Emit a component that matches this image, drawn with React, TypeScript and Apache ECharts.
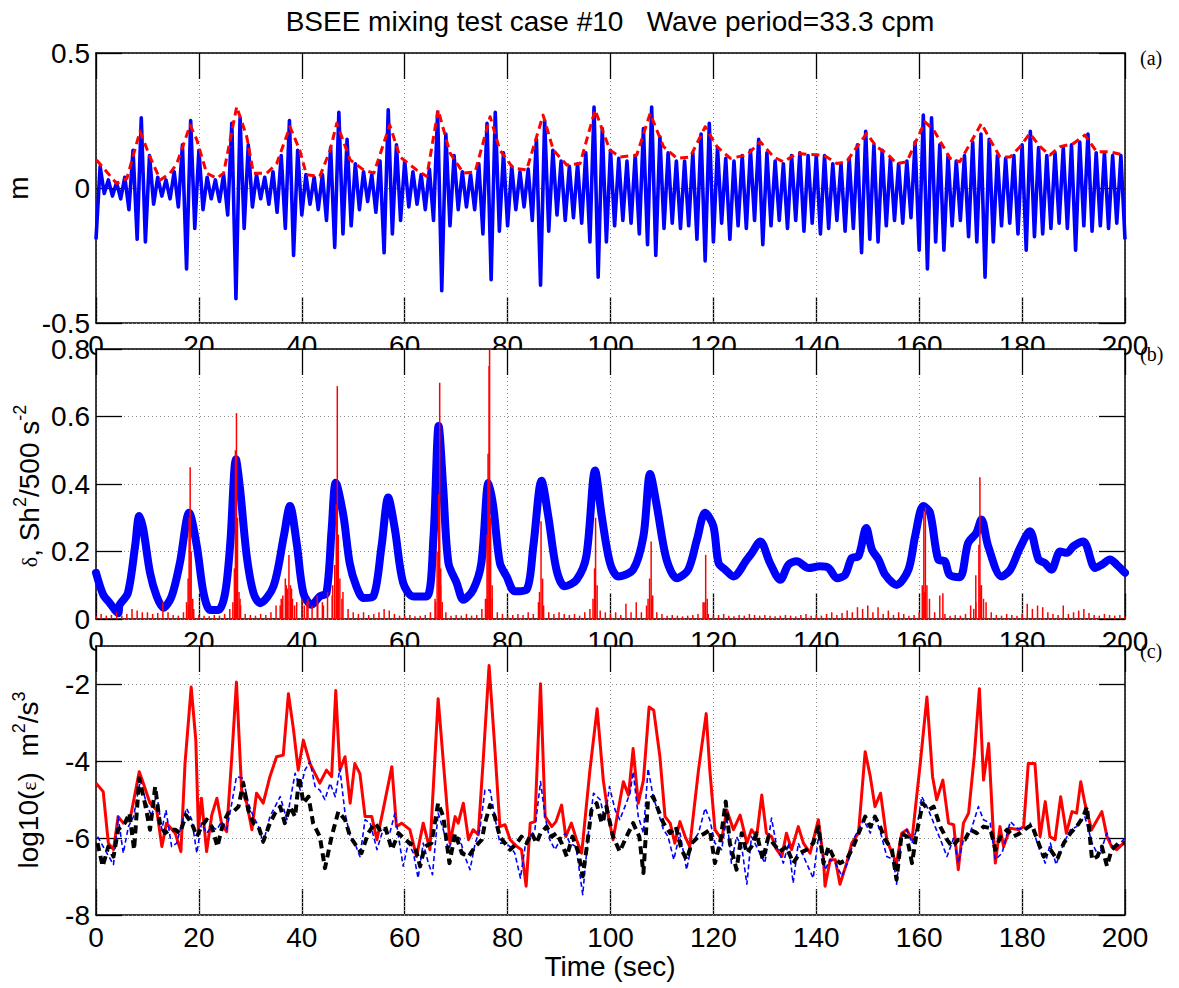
import React, { useEffect, useRef } from 'react';
import * as echarts from 'echarts';

// ---------- (a) surface elevation, m ----------
// Wave record stored as alternating troughs / crests on a 1.6 s cycle clock.
const WAVE_STEP = 1.6;
const waveTroughs = [
  -0.19, -0.02, -0.03, -0.04, -0.08, -0.19, -0.2, -0.06, -0.03, -0.04,
  -0.07, -0.3, -0.15, -0.08, -0.04, -0.05, -0.1, -0.41, -0.15, -0.07,
  -0.04, -0.06, -0.09, -0.15, -0.25, -0.1, -0.06, -0.08, -0.12, -0.22,
  -0.17, -0.14, -0.08, -0.05, -0.09, -0.24, -0.17, -0.12, -0.07, -0.06,
  -0.08, -0.12, -0.38, -0.14, -0.08, -0.07, -0.08, -0.17, -0.34, -0.16,
  -0.14, -0.08, -0.07, -0.12, -0.36, -0.16, -0.1, -0.12, -0.11, -0.13,
  -0.2, -0.33, -0.2, -0.14, -0.12, -0.13, -0.17, -0.21, -0.25, -0.15,
  -0.13, -0.15, -0.14, -0.19, -0.27, -0.2, -0.13, -0.19, -0.14, -0.15,
  -0.12, -0.21, -0.14, -0.12, -0.15, -0.12, -0.16, -0.13, -0.17, -0.15,
  -0.12, -0.16, -0.15, -0.24, -0.19, -0.2, -0.14, -0.12, -0.13, -0.11,
  -0.23, -0.3, -0.2, -0.23, -0.14, -0.12, -0.18, -0.2, -0.33, -0.2,
  -0.14, -0.13, -0.17, -0.23, -0.18, -0.17, -0.15, -0.13, -0.15, -0.23,
  -0.14, -0.16, -0.14, -0.15, -0.13, -0.19,
];
const waveCrests = [
  0.08, 0.03, 0.02, 0.04, 0.14, 0.26, 0.12, 0.04, 0.03, 0.06,
  0.16, 0.25, 0.14, 0.04, 0.03, 0.05, 0.24, 0.26, 0.16, 0.05,
  0.04, 0.06, 0.12, 0.25, 0.14, 0.05, 0.04, 0.05, 0.15, 0.28,
  0.18, 0.09, 0.06, 0.05, 0.1, 0.29, 0.16, 0.1, 0.06, 0.05,
  0.07, 0.28, 0.2, 0.12, 0.06, 0.05, 0.09, 0.24, 0.28, 0.13,
  0.08, 0.06, 0.07, 0.18, 0.25, 0.14, 0.1, 0.08, 0.09, 0.13,
  0.3, 0.22, 0.14, 0.11, 0.1, 0.12, 0.22, 0.3, 0.19, 0.13,
  0.1, 0.1, 0.13, 0.2, 0.24, 0.15, 0.11, 0.1, 0.12, 0.14,
  0.18, 0.13, 0.1, 0.09, 0.12, 0.13, 0.12, 0.12, 0.12, 0.09,
  0.09, 0.11, 0.16, 0.21, 0.16, 0.14, 0.11, 0.09, 0.1, 0.17,
  0.27, 0.26, 0.16, 0.12, 0.1, 0.12, 0.17, 0.2, 0.18, 0.12,
  0.11, 0.12, 0.16, 0.21, 0.15, 0.12, 0.13, 0.15, 0.16, 0.17,
  0.2, 0.13, 0.13, 0.12, 0.12,
];
// Crest envelope (red dashed)
const envTime = [
  0.1, 4, 6, 8.55, 10.5, 12.5, 14.4, 15.7, 18.3, 19.6, 21.5, 23.5, 24.8, 27.35, 29.3, 30.6,
  33.2, 35.1, 37.7, 39.6, 40.9, 43.5, 45.5, 46.8, 49.4, 52, 54, 57.1, 59.1, 62.3, 64.3, 66.5,
  68.8, 71.4, 73.7, 76.6, 78.5, 81.1, 83.7, 86.9, 88.9, 91.5, 94.1, 97, 99.9, 101.9, 105.1,
  107.7, 110.3, 112.9, 115.5, 118.4, 120.7, 123.3, 126.5, 129.1, 131.7, 133.6, 136.2, 138.8,
  141.4, 144, 145.9, 147.9, 149.8, 151.7, 153.7, 155.6, 157.6, 159.5, 161.1, 162.8, 164.7,
  166, 167.9, 169.9, 172.1, 173.8, 175.7, 177.7, 179.6, 181.5, 183.5, 185.4, 187.4, 190,
  192.2, 194.5, 197.1, 199.7,
];
const envHeight = [
  0.104, 0.017, 0.035, 0.21, 0.115, 0.03, 0.055, 0.09, 0.233, 0.178, 0.055, 0.036, 0.055, 0.301, 0.19, 0.055,
  0.055, 0.09, 0.227, 0.14, 0.049, 0.043, 0.14, 0.24, 0.104, 0.067, 0.055, 0.233, 0.115, 0.067, 0.043, 0.289,
  0.13, 0.055, 0.06, 0.264, 0.14, 0.073, 0.067, 0.27, 0.14, 0.085, 0.091, 0.289, 0.14, 0.115, 0.122,
  0.276, 0.153, 0.11, 0.115, 0.227, 0.153, 0.11, 0.122, 0.171, 0.115, 0.097, 0.128, 0.124,
  0.122, 0.091, 0.097, 0.153, 0.202, 0.153, 0.128, 0.091, 0.097, 0.178, 0.245, 0.215, 0.153,
  0.11, 0.097, 0.165, 0.239, 0.178, 0.115, 0.115, 0.153, 0.202, 0.153, 0.122, 0.153, 0.165,
  0.196, 0.134, 0.134, 0.122,
];

// ---------- (b) δ, Sh²/500 ----------
const deltaTime = [
  0, 1.4, 2.7, 4.3, 4.6, 6.2, 7.6, 8.4, 9.2, 10.5, 11.8, 13.1, 14.7, 16.3, 18.1, 19.6, 20.9, 22.2,
  23.8, 25.1, 26.1, 27.2, 28, 29.3, 30.6, 31.9, 34.5, 36.5, 37.7, 39, 40.3, 41.9, 43.5, 44.8, 45.8,
  46.6, 48.1, 49.3, 50.6, 52, 53.9, 55.5, 56.8, 58.1, 59.7, 61.7, 64.3, 65.6, 66.6, 67.5, 68.5, 70.1,
  71.4, 73.3, 74.9, 76.3, 77.2, 78.5, 79.8, 81.4, 83.7, 85, 86.6, 87.9, 89.5, 91.1, 93.4, 95.3, 97,
  98.3, 99.9, 101.5, 104.4, 106.4, 107.7, 109, 110.9, 112.9, 115.1, 116.8, 118.4, 120, 121, 122.3,
  123.9, 126.5, 127.5, 129.1, 131, 133, 134.6, 136.2, 138.5, 140.7, 142.4, 144, 145.6, 146.9, 148.2,
  149.7, 150.8, 152.1, 153.4, 155.6, 157.9, 159.2, 160.8, 162.1, 163.7, 165, 165.9, 167.9, 169.5,
  171.1, 172.1, 173.4, 176, 177.7, 179.6, 181.5, 183.2, 184.4, 185.7, 187.4, 188.7, 190, 191.9,
  194.2, 195.5, 197.1, 198.4, 200,
];
const deltaValue = [
  0.137, 0.072, 0.047, 0.017, 0.042, 0.077, 0.216, 0.305, 0.265, 0.137, 0.067, 0.033, 0.067, 0.166, 0.315, 0.216, 0.077, 0.027,
  0.027, 0.077, 0.225, 0.473, 0.385, 0.186, 0.077, 0.047, 0.097, 0.245, 0.335, 0.225, 0.077, 0.042, 0.067, 0.077, 0.265,
  0.404, 0.305, 0.166, 0.097, 0.062, 0.067, 0.216, 0.36, 0.265, 0.107, 0.067, 0.067, 0.245, 0.572, 0.385, 0.166, 0.107,
  0.057, 0.087, 0.166, 0.404, 0.335, 0.166, 0.126, 0.082, 0.087, 0.216, 0.41, 0.305, 0.146, 0.097, 0.116, 0.186, 0.44,
  0.305, 0.166, 0.126, 0.146, 0.245, 0.43, 0.335, 0.176, 0.121, 0.146, 0.235, 0.315, 0.275, 0.166, 0.146,
  0.126, 0.176, 0.196, 0.23, 0.166, 0.116, 0.161, 0.171, 0.151, 0.156, 0.151, 0.121, 0.131, 0.181, 0.186,
  0.27, 0.206, 0.176, 0.131, 0.101, 0.146, 0.245, 0.335, 0.315, 0.176, 0.171, 0.131, 0.124, 0.225,
  0.255, 0.295, 0.216, 0.126, 0.146, 0.211, 0.26, 0.176, 0.166, 0.146, 0.2, 0.196, 0.216, 0.23,
  0.151, 0.161, 0.176, 0.161, 0.137,
];
// Sh²/500 background level, one value per second (0..200 s)
const shearFloor = [
  0.01, 0.015, 0.01, 0.012, 0.02, 0.01, 0.015, 0.03, 0.025, 0.02,
  0.02, 0.015, 0.018, 0.05, 0.02, 0.012, 0.01, 0.02, 0.04, 0.03,
  0.012, 0.01, 0.008, 0.012, 0.01, 0.015, 0.03, 0.05, 0.06, 0.015,
  0.012, 0.01, 0.015, 0.012, 0.02, 0.04, 0.06, 0.1, 0.09, 0.05,
  0.06, 0.05, 0.04, 0.07, 0.05, 0.08, 0.1, 0.15, 0.08, 0.03,
  0.02, 0.015, 0.02, 0.012, 0.015, 0.02, 0.03, 0.025, 0.015, 0.01,
  0.01, 0.012, 0.008, 0.01, 0.012, 0.02, 0.05, 0.1, 0.02, 0.01,
  0.012, 0.01, 0.015, 0.01, 0.012, 0.03, 0.06, 0.1, 0.02, 0.015,
  0.01, 0.012, 0.015, 0.012, 0.02, 0.015, 0.05, 0.04, 0.02, 0.015,
  0.02, 0.015, 0.012, 0.015, 0.01, 0.02, 0.03, 0.05, 0.025, 0.02,
  0.015, 0.02, 0.012, 0.045, 0.02, 0.05, 0.02, 0.04, 0.06, 0.02,
  0.015, 0.01, 0.012, 0.01, 0.008, 0.01, 0.012, 0.015, 0.05, 0.015,
  0.01, 0.012, 0.015, 0.01, 0.008, 0.012, 0.01, 0.015, 0.012, 0.01,
  0.012, 0.01, 0.008, 0.01, 0.012, 0.01, 0.008, 0.012, 0.015, 0.01,
  0.012, 0.01, 0.015, 0.02, 0.012, 0.018, 0.025, 0.02, 0.035, 0.03,
  0.04, 0.02, 0.035, 0.015, 0.025, 0.012, 0.02, 0.015, 0.01, 0.012,
  0.02, 0.08, 0.06, 0.02, 0.07, 0.015, 0.01, 0.012, 0.01, 0.015,
  0.04, 0.05, 0.1, 0.05, 0.02, 0.012, 0.01, 0.015, 0.012, 0.01,
  0.015, 0.045, 0.03, 0.04, 0.035, 0.02, 0.015, 0.012, 0.04, 0.015,
  0.02, 0.025, 0.03, 0.018, 0.012, 0.01, 0.015, 0.012, 0.01, 0.012,
  0.01,
];
// Sh²/500 bursts near the wave-group peaks [time, value]
const shearBursts: [number, number][] = [
  [17.6, 0.05], [17.9, 0.12], [18.1, 0.3], [18.3, 0.45], [18.5, 0.2], [18.8, 0.06],
  [26.6, 0.05], [26.9, 0.15], [27.1, 0.5], [27.3, 0.61], [27.5, 0.3], [27.8, 0.08], [28.1, 0.04],
  [35.8, 0.04], [36.3, 0.07], [36.8, 0.12], [37.2, 0.09], [37.5, 0.19], [37.8, 0.1], [38.2, 0.06], [38.6, 0.04],
  [40.5, 0.04], [41.2, 0.06], [43.1, 0.05], [44.2, 0.04],
  [45.9, 0.07], [46.4, 0.16], [46.7, 0.34], [46.9, 0.69], [47.1, 0.25], [47.4, 0.12], [47.8, 0.06],
  [65.9, 0.06], [66.3, 0.2], [66.6, 0.37], [66.8, 0.7], [67.0, 0.15], [67.3, 0.05],
  [75.7, 0.06], [76.0, 0.25], [76.2, 0.49], [76.4, 0.75], [76.5, 0.85], [76.7, 0.3], [77.0, 0.06],
  [86.2, 0.08], [86.5, 0.29], [86.8, 0.12],
  [96.6, 0.06], [96.9, 0.15], [97.1, 0.3], [97.4, 0.1],
  [107.3, 0.06], [107.6, 0.12], [107.9, 0.23], [108.2, 0.07],
  [118.2, 0.05], [118.5, 0.19], [118.8, 0.06],
  [160.6, 0.1], [160.9, 0.32], [161.2, 0.33], [161.5, 0.1], [164.6, 0.076],
  [170.6, 0.03], [171.0, 0.13], [171.6, 0.22], [171.8, 0.42], [172.1, 0.1], [172.5, 0.06],
];

// ---------- (c) log10(ε) ----------
const epsRed: [number, number][] = [
  [0, -4.57], [1.4, -4.79], [2.4, -6.13], [3.4, -6.3], [4.3, -5.44], [5.3, -5.61], [6.6, -5.52], [8.4, -4.27],
  [9.2, -4.57], [10.5, -5.09], [11.8, -5.27], [12.8, -6.22], [13.7, -5.61], [15.4, -5.87], [16.5, -6.35],
  [17.3, -4.06], [18.5, -2.07], [19.4, -3.45], [19.9, -5.78], [20.5, -4.96], [21.5, -6.35], [22.5, -5.4],
  [23.5, -4.96], [24.4, -5.61], [25.4, -5.83], [26.4, -3.88], [27.3, -1.94], [28.3, -4.75], [29.3, -5.09],
  [30.3, -5.78], [31.2, -4.83], [32.5, -5.09], [33.8, -4.4], [35.1, -3.88], [36.4, -3.84], [37.4, -2.24],
  [38.4, -3.19], [39.3, -4.23], [40.3, -3.45], [41.6, -4.06], [43.5, -4.57], [44.8, -4.23], [45.8, -4.4],
  [46.6, -2.16], [47.4, -4.23], [48.4, -3.88], [49.4, -5.09], [50.3, -4.06], [51.3, -4.32], [52.3, -5.44],
  [53.6, -5.44], [54.6, -6.04], [55.8, -5.27], [57.5, -4.14], [58.4, -5.7], [59.4, -5.61], [61.0, -5.78],
  [62.3, -6.48], [63.6, -5.61], [64.9, -6.3], [66.5, -2.37], [67.8, -4.49], [68.8, -6.13], [69.8, -5.44],
  [70.4, -5.61], [71.4, -5.09], [72.4, -6.04], [73.3, -5.78], [74.3, -5.91], [75.3, -3.88], [76.4, -1.51],
  [77.5, -3.62], [78.5, -5.7], [79.5, -5.65], [80.5, -6.04], [81.8, -6.22], [82.7, -6.3], [83.6, -7.25],
  [84.4, -5.61], [85.3, -5.57], [86.4, -1.98], [87.3, -5.44], [88.6, -5.7], [89.4, -5.57], [90.5, -5.14],
  [91.3, -5.96], [92.4, -5.61], [93.4, -6.04], [94.4, -6.39], [96.0, -4.23], [97.4, -2.63], [98.6, -4.49],
  [99.6, -5.44], [100.5, -6.04], [101.5, -5.27], [102.5, -4.53], [103.5, -4.88], [104.4, -3.67], [105.4, -5.09],
  [106.4, -4.49], [107.5, -2.59], [108.4, -2.67], [109.6, -3.88], [110.6, -5.44], [111.6, -5.61], [112.5, -6.13],
  [113.5, -5.57], [114.5, -5.96], [115.4, -6.22], [117.1, -4.23], [118.6, -2.76], [119.3, -4.23], [120.3, -5.78],
  [121.6, -6.04], [122.6, -5.27], [123.9, -5.78], [125.2, -5.4], [126.5, -6.13], [127.4, -5.78], [128.4, -5.96],
  [129.4, -4.88], [130.3, -5.87], [131.3, -5.96], [132.3, -6.3], [133.3, -6.48], [134.2, -5.87], [135.2, -6.3],
  [136.5, -5.7], [137.5, -6.13], [138.8, -6.39], [140.4, -5.52], [141.4, -6.56], [141.7, -7.25], [142.7, -6.56],
  [143.7, -6.56], [144.6, -7.2], [145.9, -6.65], [146.9, -6.13], [148.2, -5.87], [149.5, -3.75], [150.5, -4.4],
  [151.4, -5.18], [152.5, -4.83], [153.7, -6.04], [154.7, -6.39], [155.6, -6.65], [156.6, -5.87], [157.6, -5.78],
  [158.6, -6.04], [160.2, -4.06], [161.5, -2.33], [162.6, -4.4], [163.4, -5.0], [164.6, -4.49], [165.7, -5.61],
  [166.7, -5.65], [167.6, -6.82], [168.6, -5.61], [169.6, -5.35], [170.7, -3.88], [171.7, -2.11], [172.5, -4.49],
  [173.5, -3.54], [174.3, -5.61], [174.8, -6.65], [175.7, -5.7], [176.4, -6.22], [177.7, -5.74], [179.3, -5.78],
  [180.3, -5.7], [181.2, -4.06], [182.5, -4.06], [183.5, -5.96], [184.5, -5.05], [185.4, -5.96], [186.4, -6.04],
  [187.5, -4.92], [188.6, -5.87], [189.7, -5.31], [190.6, -5.35], [191.4, -4.53], [192.2, -5.09], [193.5, -5.78],
  [195.5, -5.31], [196.5, -5.96], [197.4, -6.22], [198.4, -6.3], [200, -6.09],
];
const epsBlue: [number, number][] = [
  [0.3, -5.96], [1.4, -6.22], [3.4, -6.69], [4.3, -5.44], [5.3, -6.39], [6.3, -5.7], [7.3, -5.44], [8.6, -4.49],
  [9.8, -5.09], [10.8, -5.44], [11.8, -4.83], [12.8, -5.78], [13.6, -5.27], [14.7, -6.22], [15.7, -6.13],
  [16.7, -5.61], [17.6, -5.22], [18.6, -5.52], [19.6, -6.39], [20.5, -5.61], [21.5, -5.87], [22.5, -5.7],
  [23.5, -5.78], [24.4, -5.57], [25.4, -5.78], [26.4, -5.09], [27.3, -4.4], [28.6, -4.44], [29.6, -5.09],
  [30.6, -5.44], [31.6, -5.7], [32.5, -6.13], [33.8, -5.44], [34.8, -5.18], [35.8, -4.92], [37.1, -5.52],
  [38.0, -4.83], [38.7, -4.31], [39.7, -4.75], [40.6, -4.23], [41.6, -4.01], [42.6, -4.66], [43.5, -4.75],
  [44.5, -5.0], [45.5, -4.57], [46.5, -4.92], [47.4, -4.19], [48.4, -5.35], [49.4, -5.96], [50.3, -6.13],
  [51.3, -6.48], [52.3, -5.52], [53.3, -5.61], [54.6, -6.3], [55.8, -5.78], [57.1, -5.87], [58.1, -5.35],
  [58.8, -5.96], [59.7, -6.73], [60.7, -6.13], [61.7, -6.39], [62.6, -7.04], [63.6, -6.13], [64.6, -6.65],
  [65.4, -6.95], [66.5, -5.35], [67.5, -5.78], [68.5, -6.3], [69.5, -5.96], [70.7, -6.0], [71.7, -6.48],
  [72.7, -6.82], [73.7, -6.13], [74.6, -5.78], [75.6, -4.75], [76.6, -4.75], [77.5, -5.44], [78.5, -6.13],
  [79.5, -6.13], [80.5, -6.22], [81.4, -6.39], [82.5, -7.04], [83.4, -6.22], [84.4, -5.96], [85.3, -5.78],
  [86.4, -4.53], [87.3, -5.44], [88.2, -6.04], [89.2, -6.3], [90.2, -6.04], [91.2, -5.87], [92.1, -6.13],
  [93.3, -6.22], [94.6, -7.47], [95.7, -5.87], [96.7, -4.83], [98.0, -5.0], [98.9, -5.52], [99.8, -4.66],
  [100.9, -5.27], [101.8, -5.52], [102.8, -5.18], [103.8, -4.83], [104.4, -4.27], [105.4, -5.44], [106.4, -5.87],
  [107.3, -4.19], [108.3, -4.92], [109.3, -5.35], [110.3, -5.78], [111.2, -5.96], [112.3, -6.56], [113.5, -5.87],
  [114.8, -6.82], [115.8, -6.13], [117.1, -5.87], [118.4, -5.22], [119.3, -5.52], [120.3, -6.13], [121.6, -6.3],
  [122.6, -5.44], [123.5, -6.65], [124.5, -5.96], [125.5, -6.22], [126.5, -7.2], [127.4, -5.96], [128.4, -6.22],
  [130.0, -6.65], [131.3, -5.48], [132.3, -6.22], [133.6, -6.65], [134.6, -6.13], [135.5, -7.17], [136.5, -6.13],
  [137.8, -6.56], [139.4, -7.04], [140.6, -5.78], [141.7, -6.82], [142.7, -6.56], [143.7, -6.65], [145.0, -6.99],
  [146.3, -6.56], [147.5, -5.96], [149.2, -5.52], [150.5, -5.87], [151.4, -5.4], [152.7, -5.96], [153.7, -6.48],
  [155.0, -6.56], [155.6, -7.2], [156.6, -5.96], [157.6, -5.78], [158.6, -6.13], [159.5, -5.78], [160.5, -4.92],
  [161.8, -5.27], [163.1, -5.7], [164.4, -6.13], [165.4, -6.48], [166.7, -6.0], [167.6, -6.65], [168.6, -6.04],
  [169.9, -5.87], [171.5, -5.18], [172.5, -5.52], [173.8, -5.61], [174.8, -6.56], [176.1, -6.39], [177.7, -5.57],
  [179.0, -5.74], [180.3, -5.78], [181.6, -5.61], [183.2, -6.22], [184.5, -6.65], [185.5, -6.13], [186.6, -6.69],
  [188.1, -6.13], [189.4, -5.78], [190.6, -5.7], [192.2, -5.44], [193.6, -6.13], [194.9, -6.48], [196.5, -5.87],
  [197.8, -6.3], [199.1, -6.13], [200, -6.0],
];
const epsBlack: [number, number][] = [
  [0.3, -6.13], [1.3, -6.73], [2.4, -6.22], [3.4, -6.48], [4.3, -5.78], [5.6, -5.61], [6.5, -5.35], [7.4, -6.3],
  [8.4, -4.44], [9.5, -5.09], [10.5, -5.78], [11.5, -4.66], [12.4, -5.61], [13.4, -5.87], [14.4, -5.78],
  [15.4, -5.78], [16.3, -5.87], [17.5, -5.4], [18.6, -5.61], [19.6, -5.96], [20.5, -5.7], [21.5, -5.52],
  [22.5, -5.7], [23.6, -6.22], [24.7, -5.61], [25.7, -5.35], [26.7, -5.31], [27.7, -5.18], [28.6, -4.57],
  [29.6, -5.27], [30.6, -5.61], [31.6, -5.7], [32.5, -6.09], [33.8, -5.61], [34.8, -5.35], [35.8, -5.18],
  [36.7, -5.61], [37.7, -5.18], [38.7, -5.44], [39.5, -4.4], [40.3, -5.09], [41.3, -4.92], [42.2, -5.61],
  [43.5, -5.96], [44.5, -6.78], [45.8, -5.96], [47.1, -5.31], [48.4, -5.52], [49.4, -5.96], [50.7, -6.22],
  [51.6, -6.39], [52.9, -5.87], [54.2, -5.61], [55.2, -5.78], [56.2, -5.7], [57.5, -6.3], [58.8, -5.87],
  [60.1, -6.04], [61.0, -6.13], [62.0, -6.22], [63.0, -6.73], [63.9, -6.22], [65.2, -6.13], [66.5, -5.09],
  [67.5, -5.44], [68.7, -6.65], [69.8, -5.87], [71.1, -6.39], [72.4, -6.48], [73.7, -6.22], [75.0, -6.04],
  [75.6, -5.61], [76.6, -5.14], [77.5, -5.44], [78.5, -5.96], [79.5, -6.13], [80.5, -6.3], [81.8, -6.13],
  [82.7, -5.96], [83.7, -6.13], [84.7, -5.87], [85.6, -6.13], [86.4, -5.87], [87.6, -5.7], [88.6, -5.96],
  [89.5, -5.87], [90.5, -6.13], [91.5, -6.48], [92.6, -5.96], [93.7, -6.35], [94.6, -6.99], [95.5, -6.13],
  [96.3, -5.27], [97.3, -5.09], [98.3, -5.61], [99.2, -5.18], [100.5, -5.96], [101.8, -6.35], [103.1, -5.96],
  [104.4, -5.61], [105.6, -5.96], [106.4, -6.91], [107.3, -5.0], [108.3, -4.92], [109.3, -5.27], [110.3, -5.61],
  [111.6, -5.87], [112.7, -5.7], [113.8, -6.3], [114.8, -6.56], [115.8, -6.13], [117.1, -5.96], [118.4, -5.87],
  [119.3, -5.78], [120.3, -6.65], [121.3, -6.13], [122.4, -5.05], [123.2, -6.13], [124.5, -6.82], [125.5, -5.87],
  [126.5, -6.39], [127.4, -6.22], [128.4, -5.87], [129.6, -6.56], [130.7, -5.96], [131.6, -6.13], [132.9, -6.35],
  [134.2, -6.22], [135.5, -6.65], [136.8, -6.39], [138.1, -6.3], [139.4, -6.13], [140.4, -5.7], [141.4, -6.65],
  [142.4, -6.22], [143.3, -6.48], [144.6, -6.65], [145.9, -6.56], [147.2, -6.22], [148.5, -5.78], [149.5, -5.44],
  [150.5, -5.7], [151.4, -5.44], [152.4, -5.7], [153.4, -6.04], [154.7, -6.3], [155.6, -7.08], [156.6, -5.87],
  [157.6, -5.96], [158.6, -6.65], [159.5, -5.87], [160.7, -5.09], [161.8, -5.27], [162.8, -5.18], [164.1, -5.7],
  [165.4, -6.04], [166.4, -6.22], [167.6, -6.04], [168.9, -6.04], [169.9, -5.78], [171.2, -5.87], [172.5, -5.7],
  [173.8, -5.74], [174.8, -6.3], [175.8, -5.96], [177.1, -5.78], [178.3, -5.96], [179.6, -5.87], [180.9, -5.74],
  [181.9, -5.65], [183.2, -6.13], [184.2, -6.48], [185.5, -6.3], [186.8, -6.56], [188.1, -6.13], [189.4, -5.87],
  [190.6, -5.7], [191.9, -5.44], [192.6, -5.18], [193.6, -6.56], [194.6, -6.48], [195.5, -6.22], [196.5, -6.73],
  [197.4, -6.3], [198.8, -6.13], [200, -6.13],
];

// ---------- assembly ----------
const wave: [number, number][] = [];
waveTroughs.forEach((v, i) => {
  wave.push([i * WAVE_STEP, v]);
  if (i < waveCrests.length) wave.push([i * WAVE_STEP + WAVE_STEP / 2, waveCrests[i]]);
});
const envelope = envTime.map((t, i) => [t, envHeight[i]]);
const delta = deltaTime.map((t, i) => [t, deltaValue[i]]);
const shear = shearFloor.map((v, i) => [i, v] as [number, number]).concat(shearBursts);

const FONT = '"Liberation Sans", Arial, Helvetica, sans-serif';
const SERIF = '"Liberation Serif", "Times New Roman", serif';
const BLACK = '#000';

const grids = [
  { left: 96, width: 1029, top: 53, height: 270 },
  { left: 96, width: 1029, top: 349, height: 270 },
  { left: 96, width: 1029, top: 646, height: 269 },
];
const yRanges = [
  { min: -0.5, max: 0.5, interval: 0.5 },
  { min: 0, max: 0.8, interval: 0.2 },
  { min: -8, max: -1, interval: 2 },
];

const frameLine = { show: true, onZero: false, lineStyle: { color: BLACK, width: 1.5 } };
const innerTick = { show: true, inside: true, length: 26, lineStyle: { color: BLACK, width: 1.3 } };
const dotted = { show: true, lineStyle: { color: '#8a8a8a', width: 1, type: [1, 3] } };
const tickFont = { color: BLACK, fontSize: 28, fontFamily: FONT };

const xAxes: any[] = [];
const yAxes: any[] = [];
grids.forEach((_, g) => {
  // bottom axis with labels (kept beneath the next panel's face)
  xAxes.push({
    type: 'value', gridIndex: g, position: 'bottom', min: 0, max: 200, interval: 20, z: 0,
    axisLine: frameLine, axisTick: innerTick, splitLine: { show: false },
    axisLabel: { ...tickFont, margin: 8 },
  });
  // top edge: ticks + vertical grid
  xAxes.push({
    type: 'value', gridIndex: g, position: 'top', min: 0, max: 200, interval: 20, z: 2,
    axisLine: frameLine, axisTick: innerTick, splitLine: dotted, axisLabel: { show: false },
  });
  const r = yRanges[g];
  yAxes.push({
    type: 'value', gridIndex: g, position: 'left', ...r, z: 2,
    axisLine: frameLine, axisTick: innerTick, splitLine: dotted,
    axisLabel: { ...tickFont, margin: 6, showMaxLabel: g !== 2 },
  });
  yAxes.push({
    type: 'value', gridIndex: g, position: 'right', ...r, z: 2,
    axisLine: frameLine, axisTick: innerTick, splitLine: { show: false }, axisLabel: { show: false },
  });
});

const line = (name: string, g: number, data: any[], color: string, width: number, type: any = 'solid', extra: any = {}) => ({
  name, type: 'line', xAxisIndex: g * 2, yAxisIndex: g * 2, data, showSymbol: false, symbol: 'none', z: 3,
  lineStyle: { color, width, type, join: 'round', cap: 'butt' }, ...extra,
});

const richLabel = {
  t: { fontFamily: FONT, fontSize: 28, lineHeight: 36, fill: BLACK },
  g: { fontFamily: SERIF, fontSize: 22, lineHeight: 36, fill: BLACK },
  s: { fontFamily: FONT, fontSize: 18, lineHeight: 18, verticalAlign: 'top', fill: BLACK },
};
const text = (x: number, y: number, str: string, opts: any = {}) => ({
  type: 'text', x, y, z: 5, rotation: opts.rotation || 0,
  style: {
    text: str, fill: BLACK,
    fontFamily: opts.fontFamily || FONT, fontSize: opts.fontSize || 28,
    align: opts.align || 'center', verticalAlign: 'middle',
    textAlign: opts.align || 'center', textVerticalAlign: 'middle',
    rich: opts.rich,
  },
});

const option: any = {
  animation: false,
  backgroundColor: '#fff',
  grid: grids.map((g) => ({ ...g, containLabel: false, outerBoundsMode: 'none' })),
  xAxis: xAxes,
  yAxis: yAxes,
  series: [
    line('elevation', 0, wave, '#0000ff', 3.6),
    line('envelope', 0, envelope, '#ff0000', 3, [8, 5]),
    line('delta', 1, delta, '#0000ff', 8, 'solid', { smooth: 0.3, lineStyle: { color: '#0000ff', width: 8, join: 'round', cap: 'round' } }),
    {
      name: 'shear', type: 'bar', xAxisIndex: 2, yAxisIndex: 2, data: shear, barWidth: 1.5, z: 4,
      itemStyle: { color: '#ff0000' }, clip: true,
    },
    line('eps-red', 2, epsRed, '#ff0000', 3),
    line('eps-blue', 2, epsBlue, '#0000ff', 1.6, [5, 3]),
    line('eps-black', 2, epsBlack, '#000000', 4, [8, 5]),
  ],
  graphic: {
    elements: [
      // white faces that hide the overflowing x labels of the panel above
      { type: 'rect', z: 1, shape: { x: 97, y: 350, width: 1027, height: 12 }, style: { fill: '#fff' } },
      { type: 'rect', z: 1, shape: { x: 97, y: 647, width: 1027, height: 12 }, style: { fill: '#fff' } },
      text(610, 21, 'BSEE mixing test case #10\u00a0\u00a0\u00a0Wave period=33.3 cpm'),
      text(1140, 58, '(a)', { fontFamily: SERIF, fontSize: 20, align: 'left' }),
      text(1140, 354, '(b)', { fontFamily: SERIF, fontSize: 20, align: 'left' }),
      text(1140, 651, '(c)', { fontFamily: SERIF, fontSize: 20, align: 'left' }),
      text(18, 188, '{t|m}', { rotation: Math.PI / 2, rich: richLabel }),
      text(29, 486, '{g|δ}{t|, Sh}{s|2}{t|/500 s}{s|-2}', { rotation: Math.PI / 2, rich: richLabel }),
      text(28, 780, '{t|log10(}{g|ε}{t|)\u00a0\u00a0m}{s|2}{t|/s}{s|3}', { rotation: Math.PI / 2, rich: richLabel }),
      text(610, 966, 'Time (sec)'),
    ],
  },
};

export default function App() {
  const ref = useRef<HTMLDivElement>(null);
  useEffect(() => {
    if (!ref.current) return;
    const chart = echarts.init(ref.current, null, { renderer: 'svg' });
    chart.setOption(option);
    return () => chart.dispose();
  }, []);
  return (
    <div
      ref={ref}
      style={{ position: 'fixed', left: 0, top: 0, width: 1179, height: 988, background: '#fff' }}
    />
  );
}
